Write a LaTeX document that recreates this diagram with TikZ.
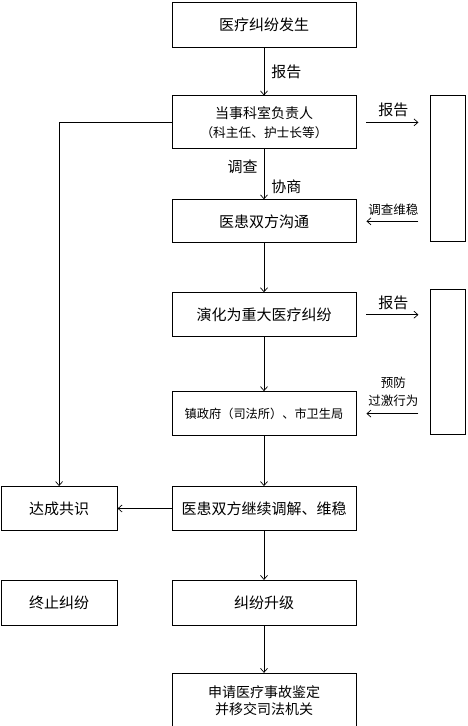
\documentclass[tikz,border=0pt]{standalone}
\usepackage{fontspec}
\setmainfont{Noto Sans CJK SC}
\usetikzlibrary{arrows.meta,positioning}
\begin{document}
\begin{tikzpicture}[x=1pt, y=1pt, font=\fontsize{15}{19}\selectfont, node distance=49pt and 54pt, box/.style={draw, line width=0.9pt, align=center, minimum width=184pt, minimum height=44pt, inner sep=0pt}, sidebox/.style={box, minimum width=116pt}, tall/.style={draw, line width=0.9pt, minimum width=35pt, inner sep=0pt, anchor=north west}, lbl/.style={inner sep=1pt, align=center}, arr/.style={-{Straight Barb[length=4pt,width=7pt]}, line width=0.7pt}]
\useasboundingbox (0,0) rectangle (468,-726);
\node[box, minimum height=45pt] (occur) at (264,-24.5) {医疗纠纷发生};
\node[box, minimum height=53pt, below=48pt of occur, font=\fontsize{14}{19}\selectfont] (head) {当事科室负责人\\{\fontsize{12.7}{19}\selectfont（科主任、护士长等）}};
\node[box, minimum height=43pt, below=50pt of head] (talk) {医患双方沟通};
\node[box, below=of talk] (major) {演化为重大医疗纠纷};
\node[box, below=54pt of major, font=\fontsize{12.2}{19}\selectfont] (gov) {镇政府（司法所）、市卫生局};
\node[box, below=50pt of gov] (mediate) {医患双方继续调解、维稳};
\node[box, minimum height=45pt, below=of mediate] (upgrade) {纠纷升级};
\node[box, minimum height=55pt, below=47pt of upgrade, font=\fontsize{14}{17}\selectfont] (apply) {申请医疗事故鉴定\\并移交司法机关};
\node[sidebox, left=of mediate] (agree) {达成共识};
\node[sidebox, minimum height=45pt, left=of upgrade] (stop) {终止纠纷};
\node[tall, minimum height=146pt] (rep1) at ([xshift=74pt]head.north east) {};
\node[tall, minimum height=145pt] (rep2) at ([xshift=74pt, yshift=3pt]major.north east) {};
\draw[arr] (occur) -- node[lbl, right=6pt] {报告} (head);
\draw[arr] (head) -- node[lbl, pos=0.34, left=5pt] {调查} node[lbl, pos=0.74, right=6pt] {协商} (talk);
\draw[arr] (talk) -- (major);
\draw[arr] (major) -- (gov);
\draw[arr] (gov) -- (mediate);
\draw[arr] (mediate) -- (upgrade);
\draw[arr] (upgrade) -- (apply);
\draw[arr] (mediate) -- (agree);
\draw[arr] (head.west) -| (agree);
\draw[arr, shorten <=10pt, shorten >=12pt] (head.east) -- node[lbl, above=4pt] {报告} (head.east -| rep1.west);
\draw[arr, shorten <=12pt, shorten >=10pt] (talk.east -| rep1.west) -- node[lbl, above=4pt, font=\fontsize{12.5}{15}\selectfont] {调查维稳} (talk.east);
\draw[arr, shorten <=10pt, shorten >=12pt] (major.east) -- node[lbl, above=4pt] {报告} (major.east -| rep2.west);
\draw[arr, shorten <=12pt, shorten >=10pt] (gov.east -| rep2.west) -- node[lbl, above=6pt, font=\fontsize{12.5}{18}\selectfont] {预防\\过激行为} (gov.east);
\end{tikzpicture}
\end{document}
